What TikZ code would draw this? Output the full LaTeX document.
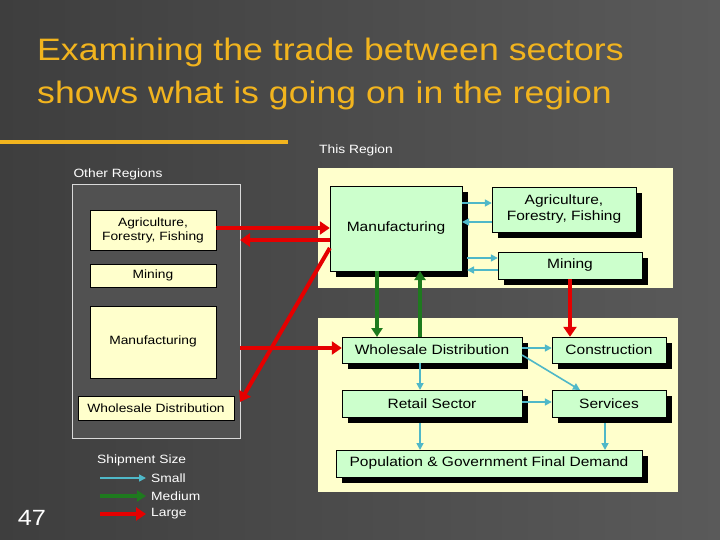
\documentclass[tikz,border=0pt]{standalone}
\usepackage{fontspec}
\setmainfont[FakeStretch=1.15]{Liberation Sans}
\usetikzlibrary{arrows.meta,shadows}
\definecolor{ttl}{HTML}{F2B41E}
\definecolor{pale}{HTML}{FFFFCC}
\definecolor{mint}{HTML}{CCFFCC}
\definecolor{bgd}{HTML}{3E3E3E}
\definecolor{bgl}{HTML}{5A5A5A}
\definecolor{cy}{HTML}{4FB8C8}
\definecolor{gr}{HTML}{1E7A1E}
\begin{document}
\begin{tikzpicture}[x=1pt,y=-1pt,
 obox/.style={draw=black,fill=pale,inner sep=0pt,align=center,font=\fontsize{12}{14}\selectfont},
 tbox/.style={draw=black,fill=mint,inner sep=0pt,align=center,font=\fontsize{13.5}{16}\selectfont,
   drop shadow={shadow xshift=6pt,shadow yshift=-6pt,opacity=1,fill=black}},
 lab/.style={text=white,font=\fontsize{12}{14}\selectfont,inner sep=0pt},
 small/.style={draw=cy,line width=1.6pt,-{Triangle[length=7pt,width=7pt]}},
 med/.style={draw=gr,line width=4pt,-{Triangle[length=9pt,width=11pt]}},
 large/.style={draw=red!90!black,line width=4pt,-{Triangle[length=10pt,width=13pt]}}]
\shade[left color=bgd,right color=bgl] (0,0) rectangle (720,540);
\useasboundingbox (0,0) rectangle (720,540);
\node[anchor=west,text=ttl,font=\fontsize{31}{34}\selectfont,inner sep=0pt] (t1) at (37,52) {Examining the trade between sectors};
\node[anchor=west,text=ttl,font=\fontsize{31}{34}\selectfont,inner sep=0pt] (t2) at (37,95) {shows what is going on in the region};
\draw[ttl,line width=4pt] (0,142) -- (288,142);
\node[lab] (thisr) at (356,150) {This Region};
\node[lab] (otherr) at (118,174) {Other Regions};
% region panels
\path[draw=white!85!black,fill=bgd!90!white,line width=1pt] (72,185) rectangle (240,438);
\path[fill=pale] (318,168) rectangle (673,288);
\path[fill=pale] (318,318) rectangle (678,492);
% other region boxes
\node[obox,minimum width=126,minimum height=40] (oa) at (153,230) {Agriculture,\\Forestry, Fishing};
\node[obox,minimum width=126,minimum height=23] (om) at (153,275.5) {Mining};
\node[obox,minimum width=126,minimum height=72,anchor=north] (omf) at (153,306) {};
\node[inner sep=0pt,font=\fontsize{12}{14}\selectfont] (omfl) at (153,341) {Manufacturing};
\node[obox,minimum width=156,minimum height=24] (ow) at (156,408) {Wholesale Distribution};
% this region boxes
\node[tbox,minimum width=132,minimum height=85] (mf) at (396,228.5) {Manufacturing};
\node[tbox,minimum width=144,minimum height=45] (ag) at (564,209.5) {Agriculture,\\Forestry, Fishing};
\node[tbox,minimum width=144,minimum height=27] (mi) at (570,265.5) {Mining};
\node[tbox,minimum width=180,minimum height=26] (wd) at (432,350) {Wholesale Distribution};
\node[tbox,minimum width=114,minimum height=26] (co) at (609,350) {Construction};
\node[tbox,minimum width=180,minimum height=27] (rs) at (432,403.5) {Retail Sector};
\node[tbox,minimum width=114,minimum height=27] (se) at (609,403.5) {Services};
\node[tbox,minimum width=306,minimum height=27] (pg) at (489,463.5) {Population \& Government Final Demand};
% large flows
\draw[large] (oa.east |- 0,228) -- (mf.west |- 0,228);
\draw[large] (mf.west |- 0,240) -- (240,240);
\draw[large] (240,348) -- (wd.west |- 0,348);
\draw[large] (mf.west |- 0,248) -- (240,402);
\draw[large] (mi.south) -- (co.north -| mi.south);
% medium
\draw[med] (377,271) -- (377,337);
\draw[med] (420,337) -- (420,271);
% small
\draw[small] (462,203) -- (ag.west |- 0,203);
\draw[small] (ag.west |- 0,222) -- (462,222);
\draw[small] (467,258) -- (mi.west |- 0,258);
\draw[small] (mi.west |- 0,270) -- (467,270);
\draw[small] (wd.east |- 0,348) -- (co.west |- 0,348);
\draw[small] (522,355) -- (580,390);
\draw[small] (420,363) -- (420,390);
\draw[small] (rs.east |- 0,402) -- (se.west |- 0,402);
\draw[small] (420,423) -- (420,450);
\draw[small] (605,423) -- (605,450);
% legend
\node[lab,anchor=west] (ss) at (97,460) {Shipment Size};
\coordinate (s1) at (100,478); \coordinate (s2) at (146,478);
\draw[small] (s1) -- (s2); \node[lab,anchor=west] (ls) at (151,478) {Small};
\coordinate (m1) at (100,496); \coordinate (m2) at (146,496);
\draw[med] (m1) -- (m2); \node[lab,anchor=west] (lm) at (151,496) {Medium};
\coordinate (l1) at (100,514); \coordinate (l2) at (146,514);
\draw[large] (l1) -- (l2); \node[lab,anchor=west] (ll) at (151,514) {Large};
\node[text=white,font=\fontsize{22}{24}\selectfont,inner sep=0pt] (pn) at (32,518) {47};
\end{tikzpicture}
\end{document}
